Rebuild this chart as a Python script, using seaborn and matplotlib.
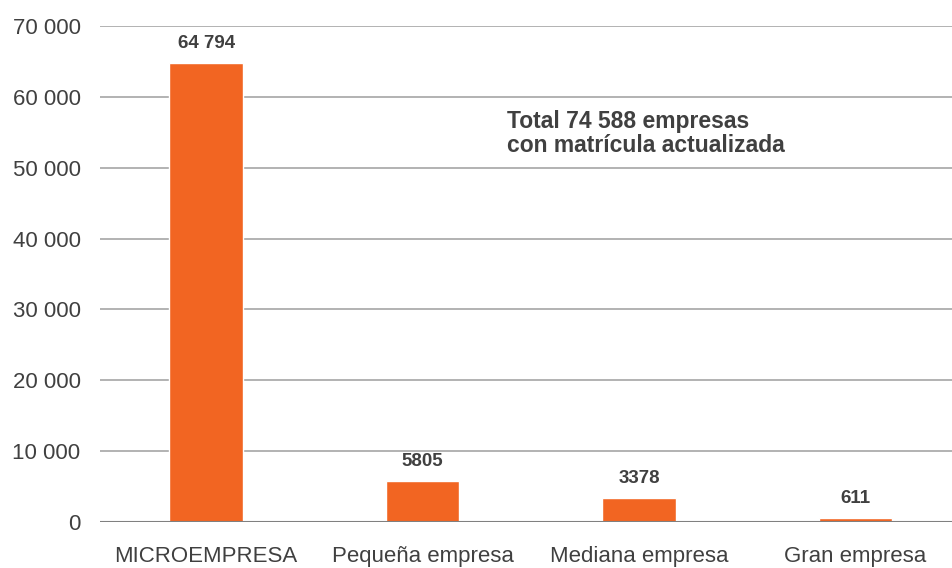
import matplotlib
matplotlib.use("Agg")
import matplotlib.pyplot as plt
import seaborn as sns
import pandas as pd

# Data
categorias = ["MICROEMPRESA", "Pequeña empresa", "Mediana empresa", "Gran empresa"]
empresas = [64794, 5805, 3378, 611]
etiquetas = ["64 794", "5805", "3378", "611"]
total_texto = "Total 74 588 empresas\ncon matrícula actualizada"
y_ticks = [0, 10000, 20000, 30000, 40000, 50000, 60000, 70000]

sns.set_theme(style="white")
plt.rcParams['font.family'] = ['Liberation Sans', 'DejaVu Sans']

naranja = "#F26522"
gris_texto = "#404040"

df = pd.DataFrame({"categoria": categorias, "empresas": empresas})

fig = plt.figure(figsize=(9.53, 5.68), dpi=100)
ax = fig.add_axes([0.105, 0.081, 0.895, 0.873])

sns.barplot(data=df, x="categoria", y="empresas", color=naranja,
            width=0.34, saturation=1, ax=ax, zorder=3)

for i, (v, t) in enumerate(zip(empresas, etiquetas)):
    ax.annotate(t, (i, v), xytext=(0, 8), textcoords="offset points",
                ha="center", va="bottom", fontsize=13.5, fontweight="bold",
                color=gris_texto)

ax.text(1.39, 58100, total_texto, ha="left", va="top", fontsize=16.5,
        fontweight="bold", color=gris_texto, linespacing=1.05)

ax.set_ylim(0, 70000)
ax.set_xlim(-0.49, 3.45)
ax.set_yticks(y_ticks)
ax.set_yticklabels([f"{v:,}".replace(",", " ") for v in y_ticks])
ax.yaxis.grid(True, color="#A6A6A6", linewidth=1.2, zorder=0)
ax.axhline(0, color="#808080", linewidth=1.5, zorder=4)
ax.set_xlabel("")
ax.set_ylabel("")
ax.tick_params(axis="y", labelsize=16, colors=gris_texto, length=0, pad=14)
ax.tick_params(axis="x", labelsize=16, colors=gris_texto, length=0, pad=17)
for s in ax.spines.values():
    s.set_visible(False)

fig.savefig("out.png", dpi=100)
plt.close(fig)
